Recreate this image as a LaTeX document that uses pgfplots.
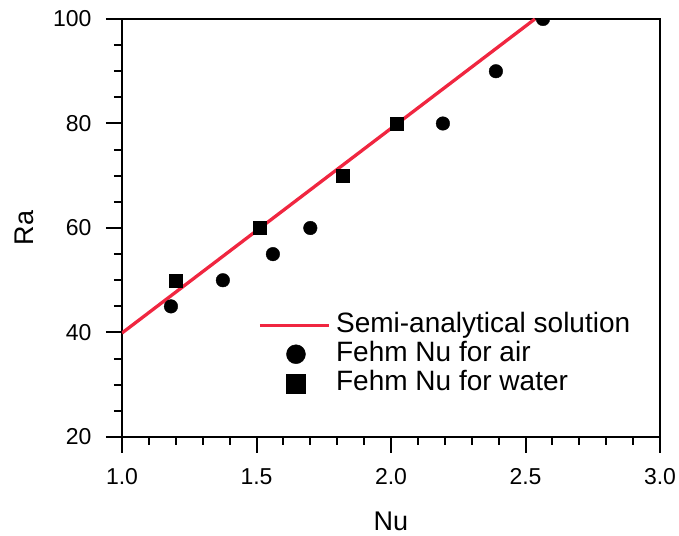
\documentclass[border=0pt]{standalone}
\usepackage{pgfplots}
\pgfplotsset{compat=1.18}
\usepackage{fontspec}
\setmainfont{Liberation Sans}
\definecolor{myred}{RGB}{240,38,64}
\begin{document}
\begin{tikzpicture}
\begin{axis}[
  scale only axis,
  width=538pt, height=418pt,
  xmin=1.0, xmax=3.0, ymin=20, ymax=100,
  xtick={1.0,1.5,2.0,2.5,3.0},
  ytick={20,40,60,80,100},
  minor x tick num=4,
  minor y tick num=3,
  xticklabel style={/pgf/number format/fixed,/pgf/number format/fixed zerofill,/pgf/number format/precision=1},
  /pgf/number format/assume math mode=true,
  tick label style={font=\fontsize{23}{27}\selectfont},
  label style={font=\fontsize{27}{31}\selectfont},
  xlabel={Nu}, ylabel={Ra},
  xlabel style={at={(axis description cs:0.5,-0.2225)},anchor=base},
  ylabel style={at={(axis description cs:-0.182,0.5)},anchor=center},
  tick align=outside,
  xtick pos=bottom, ytick pos=left,
  major tick length=16pt, minor tick length=8pt,
  tick style={black,line width=2pt},
  major tick style={black,line width=2pt},
  minor tick style={black,line width=2pt},
  axis line style={line width=2pt},
  clip marker paths=true,
  xticklabel style={yshift=-12pt},
  yticklabel style={xshift=-11pt},
  legend style={draw=none, fill=none, at={(rel axis cs:0.253,0.3026)}, anchor=north west,
    font=\fontsize{28}{29}\selectfont, row sep=0pt, inner sep=0pt,
    nodes={inner sep=1.5pt, text height=20pt, text depth=6pt},
    /tikz/every odd column/.append style={column sep=4pt}},
  legend cell align=left,
  legend image code/.code={},
]
\addplot[myred, line width=3.3pt, forget plot] coordinates {(1.0,39.9) (2.535,100)};
\addlegendimage{legend image code/.code={\draw[myred,line width=3.3pt] (0pt,0pt) -- (69pt,0pt);}}
\addlegendentry{Semi-analytical solution}
\addlegendimage{legend image code/.code={\fill[black] (36pt,0pt) circle (9.5pt);}}
\addlegendentry{Fehm Nu for air}
\addlegendimage{legend image code/.code={\fill[black] (26.5pt,-9.5pt) rectangle (45.5pt,9.5pt);}}
\addlegendentry{Fehm Nu for water}
\addplot[only marks, mark=*, mark size=6.8pt, black, forget plot] coordinates {
 (1.182,45) (1.375,50) (1.561,55) (1.70,60) (2.193,80) (2.39,90) (2.565,100)};
\addplot[only marks, mark=square*, mark size=6.5pt, black, forget plot] coordinates {
 (1.20,50) (1.513,60) (1.82,70) (2.022,80)};
\end{axis}
\pgfresetboundingbox
\path (current axis.south west) ++(-122pt,-99pt) coordinate (bl);
\path (current axis.north east) ++(19pt,19pt) coordinate (tr);
\useasboundingbox (bl) rectangle (tr);
\end{tikzpicture}
\end{document}
